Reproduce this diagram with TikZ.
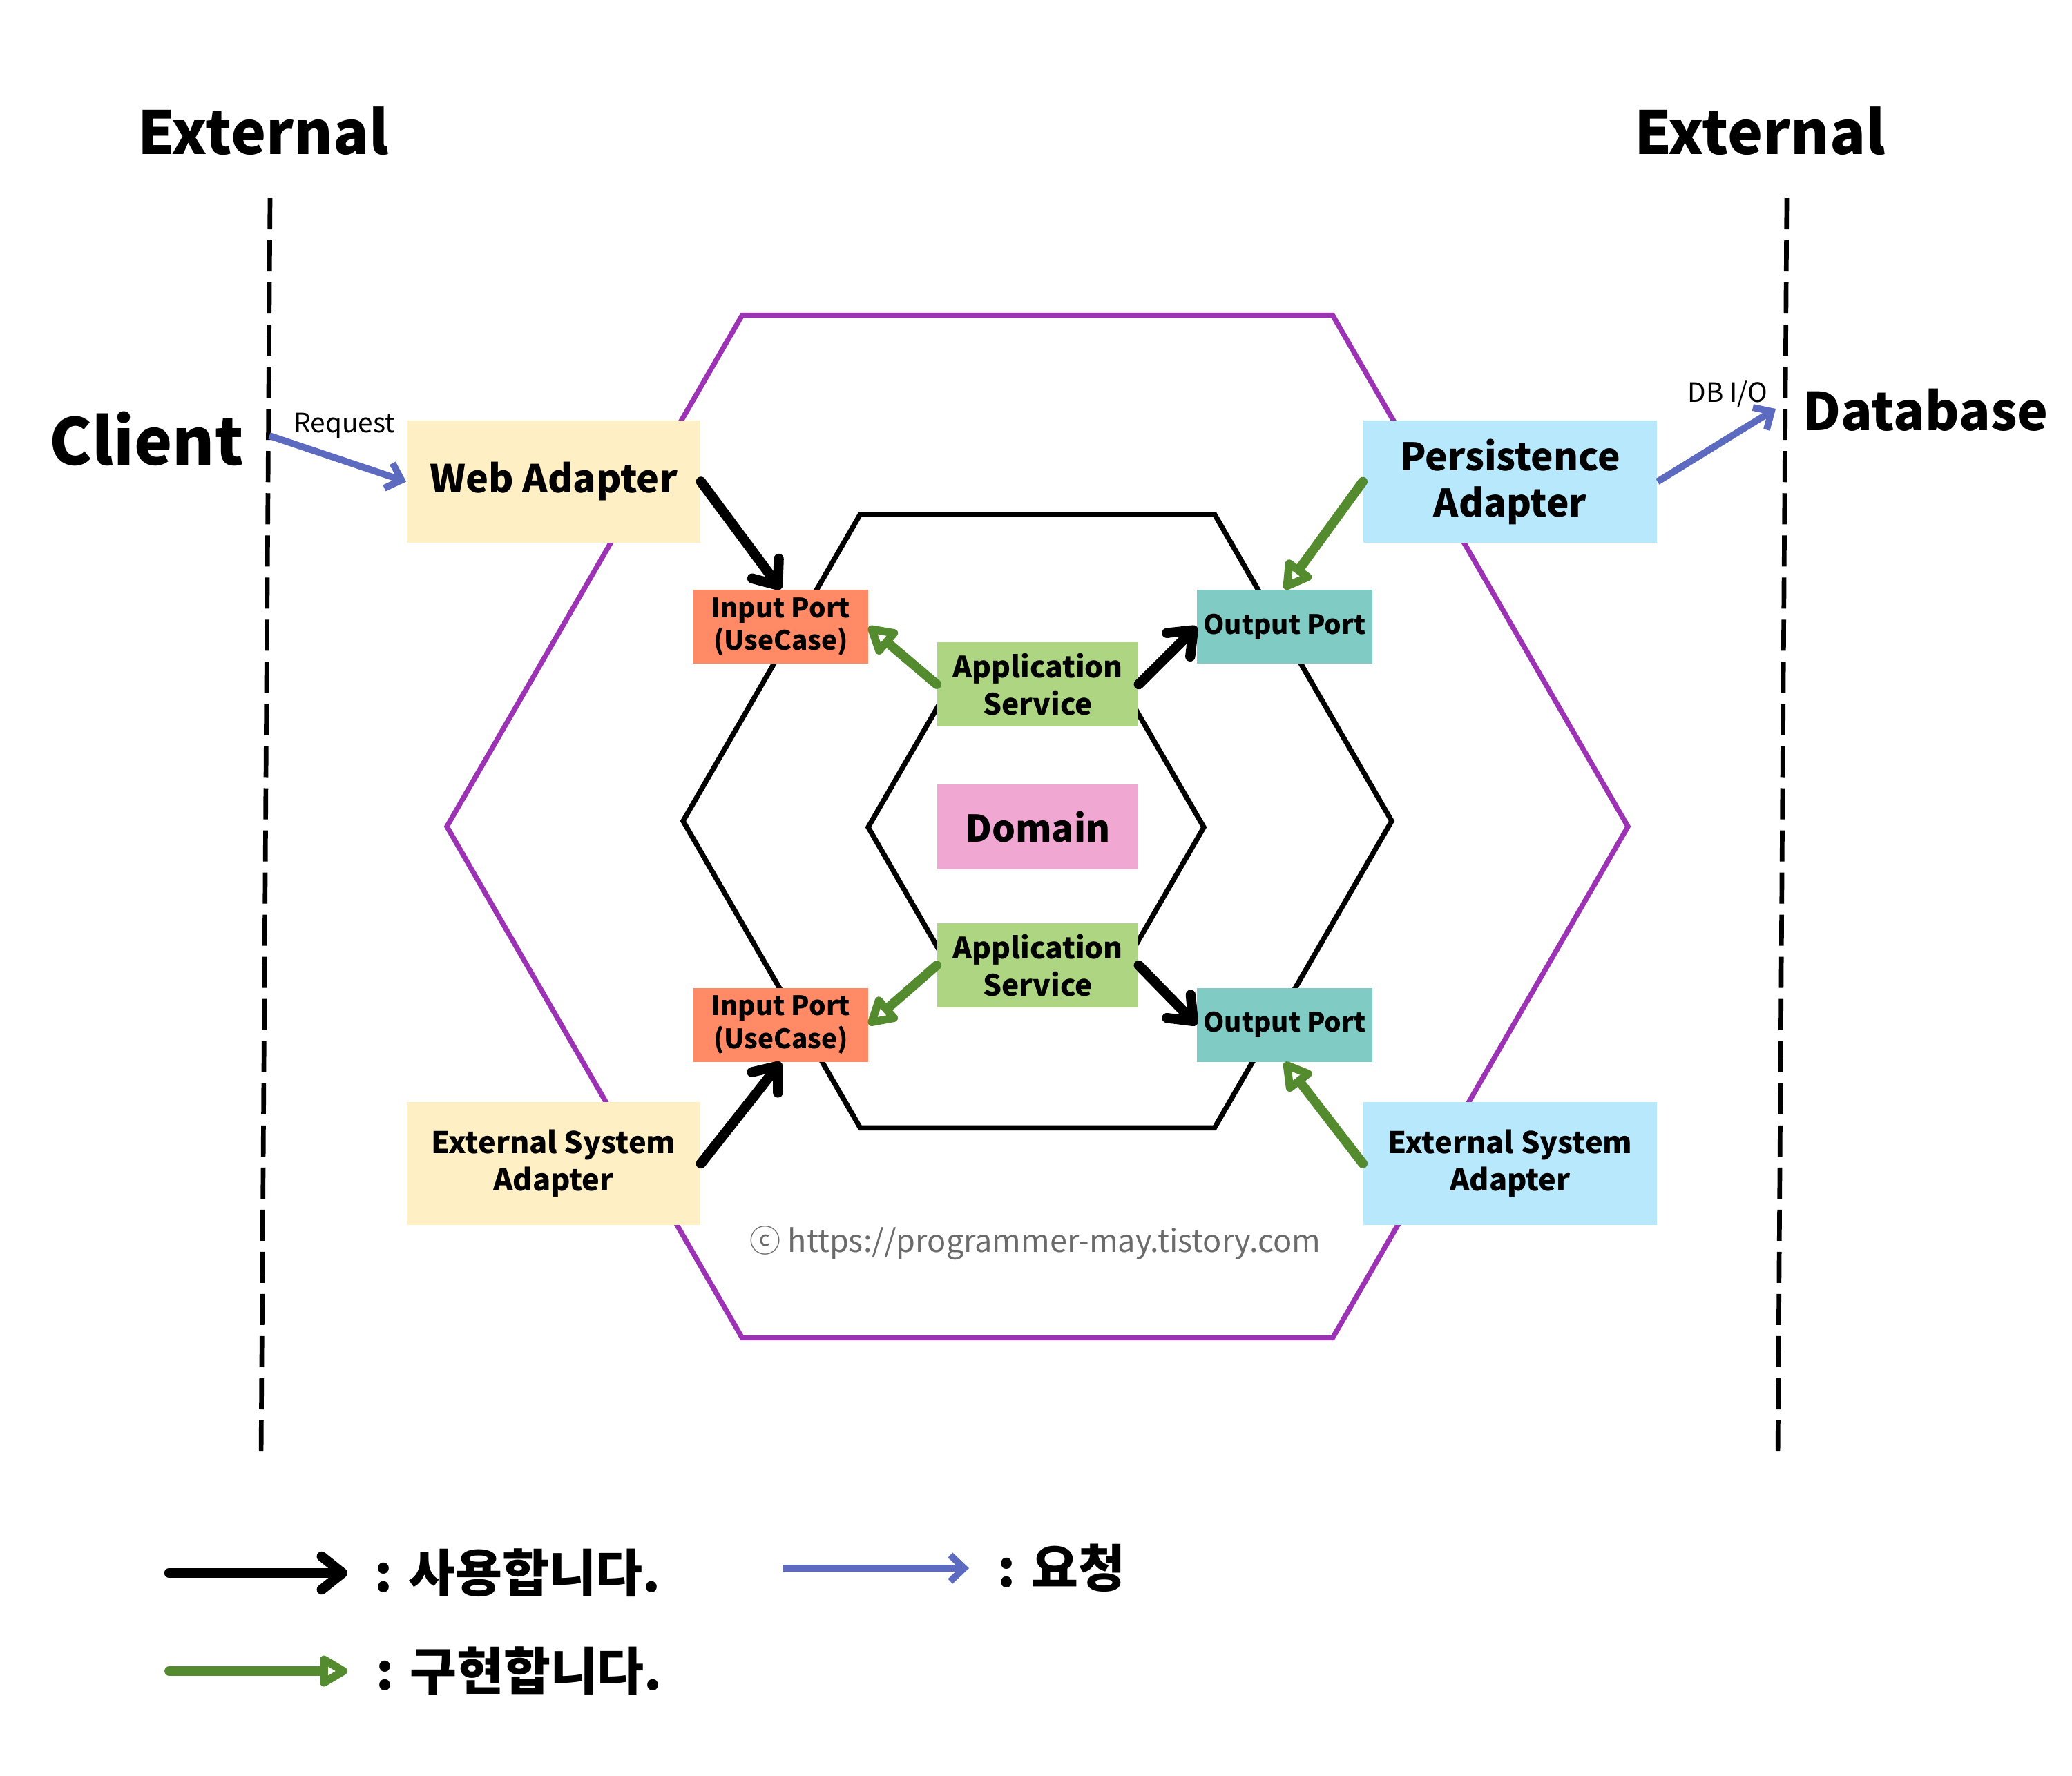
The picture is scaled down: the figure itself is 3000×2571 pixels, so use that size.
\documentclass[tikz,border=0pt]{standalone}
\usepackage{fontspec}
\setmainfont{Noto Sans CJK KR}
\usepackage{tikz}
\usetikzlibrary{positioning,arrows.meta}

\definecolor{webyellow}{HTML}{FFEFC4}
\definecolor{dbblue}{HTML}{B8E8FC}
\definecolor{portsalmon}{HTML}{FF8A65}
\definecolor{portteal}{HTML}{80CBC4}
\definecolor{servicegreen}{HTML}{AED581}
\definecolor{domainpink}{HTML}{F0A8D2}
\definecolor{hexpurple}{HTML}{9C32B4}
\definecolor{implgreen}{HTML}{558B2F}
\definecolor{reqblue}{HTML}{5C6BC0}
\definecolor{markgray}{HTML}{6B6B6B}

\newcommand{\fsz}[2]{\fontsize{#1}{#2}\selectfont}

\tikzset{box/.style={rectangle, inner sep=0pt, text centered, align=center,
    font=\bfseries},
  adapter/.style={box, minimum width=4.25cm, minimum height=1.77cm,
    font=\bfseries\fsz{12.3}{15.3}},
  port/.style={box, minimum width=2.53cm, minimum height=1.07cm,
    font=\bfseries\fsz{11}{13.6}},
  service/.style={box, fill=servicegreen, minimum width=2.91cm,
    minimum height=1.22cm, font=\bfseries\fsz{12.1}{15.3}},
  title/.style={font=\bfseries\fsz{24.5}{28}},
  note/.style={inner sep=0pt, font=\fsz{11}{13}},
  legend/.style={inner sep=0pt, font=\bfseries\fsz{21}{24}},
  hexline/.style={line width=2.1pt},
  boundary/.style={line width=1.9pt, dash pattern=on 0.45cm off 0.16cm},
  usearrow/.style={-{Straight Barb[round, length=0.3cm, width=0.48cm]},
    line width=4.1pt, line cap=round},
  implarrow/.style={-{Triangle[open, round, length=0.46cm, width=0.5cm]},
    draw=implgreen, line width=3.9pt, line cap=round},
  reqarrow/.style={-{Straight Barb[length=0.2cm, width=0.38cm]},
    draw=reqblue, line width=2.8pt}
}

\begin{document}
\begin{tikzpicture}[x=0.01cm, y=-0.01cm]

   \useasboundingbox (0,0) rectangle (3000,2571);

   %hexagons
   \coordinate (outer-c) at (1502,1197);
   \coordinate (middle-c) at (1502,1189);
   \coordinate (inner-c) at (1500,1198);
   \draw[hexline, draw=hexpurple] (outer-c) +(0:855)
      \foreach \a in {60,120,...,300} { -- +(\a:855) } -- cycle;
   \draw[hexline] (middle-c) +(0:513)
      \foreach \a in {60,120,...,300} { -- +(\a:513) } -- cycle;
   \draw[hexline] (inner-c) +(0:243)
      \foreach \a in {60,120,...,300} { -- +(\a:243) } -- cycle;

   %external boundaries
   \coordinate (left-top) at (391,287);
   \coordinate (left-bot) at (378,2114);
   \coordinate (right-top) at (2587,287);
   \coordinate (right-bot) at (2574,2114);
   \draw[boundary] (left-top) -- (left-bot);
   \draw[boundary] (right-top) -- (right-bot);

   \node (ext-left) [title] at (381,190) {External};
   \node (ext-right) [title] at (2548,190) {External};
   \node (client) [title, font=\bfseries\fsz{26.5}{30}] at (212,635) {Client};
   \node (database) [title, font=\bfseries\fsz{21.5}{26}] at (2788,594) {Database};

   %adapters
   \node (web) [adapter, fill=webyellow, font=\bfseries\fsz{15.8}{19}]
      at (801.5,697.5) {Web Adapter};
   \node (persist) [adapter, fill=dbblue, font=\bfseries\fsz{15.6}{19}]
      at (2186.5,697.5) {Persistence\\Adapter};
   \node (ext-sys-l) [adapter, fill=webyellow] at (801.5,1685)
      {External System\\Adapter};
   \node (ext-sys-r) [adapter, fill=dbblue] at (2186.5,1685)
      {External System\\Adapter};

   %ports
   \node (in-top) [port, fill=portsalmon] at (1130.5,907.5) {Input Port\\(UseCase)};
   \node (out-top) [port, fill=portteal] at (1860,907.5) {Output Port};
   \node (in-bot) [port, fill=portsalmon] at (1130.5,1484) {Input Port\\(UseCase)};
   \node (out-bot) [port, fill=portteal] at (1860,1484) {Output Port};

   %services and domain
   \node (svc-top) [service] at (1502.5,991) {Application\\Service};
   \node (domain) [service, fill=domainpink, font=\bfseries\fsz{15.2}{19}]
      at (1502.5,1197.5) {Domain};
   \node (svc-bot) [service] at (1502.5,1398) {Application\\Service};

   %connections
   \draw[usearrow] (web.east) -- (in-top.north);
   \draw[implarrow] (svc-top.west) -- (in-top.east);
   \draw[usearrow] (svc-top.east) -- (out-top.west);
   \draw[implarrow] (persist.west) -- (out-top.north);
   \draw[implarrow] (svc-bot.west) -- (in-bot.east);
   \draw[usearrow] (svc-bot.east) -- (out-bot.west);
   \draw[usearrow] (ext-sys-l.east) -- (in-bot.south);
   \draw[implarrow] (ext-sys-r.west) -- (out-bot.south);

   %requests
   \coordinate (req-start) at (390,631);
   \coordinate (db-end) at (2571,592);
   \draw[reqarrow] (req-start) -- (web.west);
   \draw[reqarrow] (persist.east) -- (db-end);
   \node (request) [note, anchor=base west] at (425,626) {Request};
   \node (dbio) [note, anchor=base west] at (2443,582) {DB I/O};

   \node (mark) [font=\fsz{12.8}{14}, text=markgray] at (1499,1800)
      {ⓒ https://programmer-may.tistory.com};

   %legend
   \coordinate (use-a) at (245,2278);
   \coordinate (use-b) at (503,2278);
   \coordinate (impl-a) at (245,2420);
   \coordinate (impl-b) at (503,2420);
   \coordinate (req-a) at (1133,2271);
   \coordinate (req-b) at (1403,2271);
   \draw[usearrow] (use-a) -- (use-b);
   \draw[implarrow] (impl-a) -- (impl-b);
   \draw[reqarrow] (req-a) -- (req-b);
   \node (use-text) [legend, right=0.39cm of use-b] {: 사용합니다.};
   \node (impl-text) [legend, right=0.41cm of impl-b] {: 구현합니다.};
   \node (req-text) [legend, right=0.41cm of req-b] {: 요청};

\end{tikzpicture}
\end{document}
